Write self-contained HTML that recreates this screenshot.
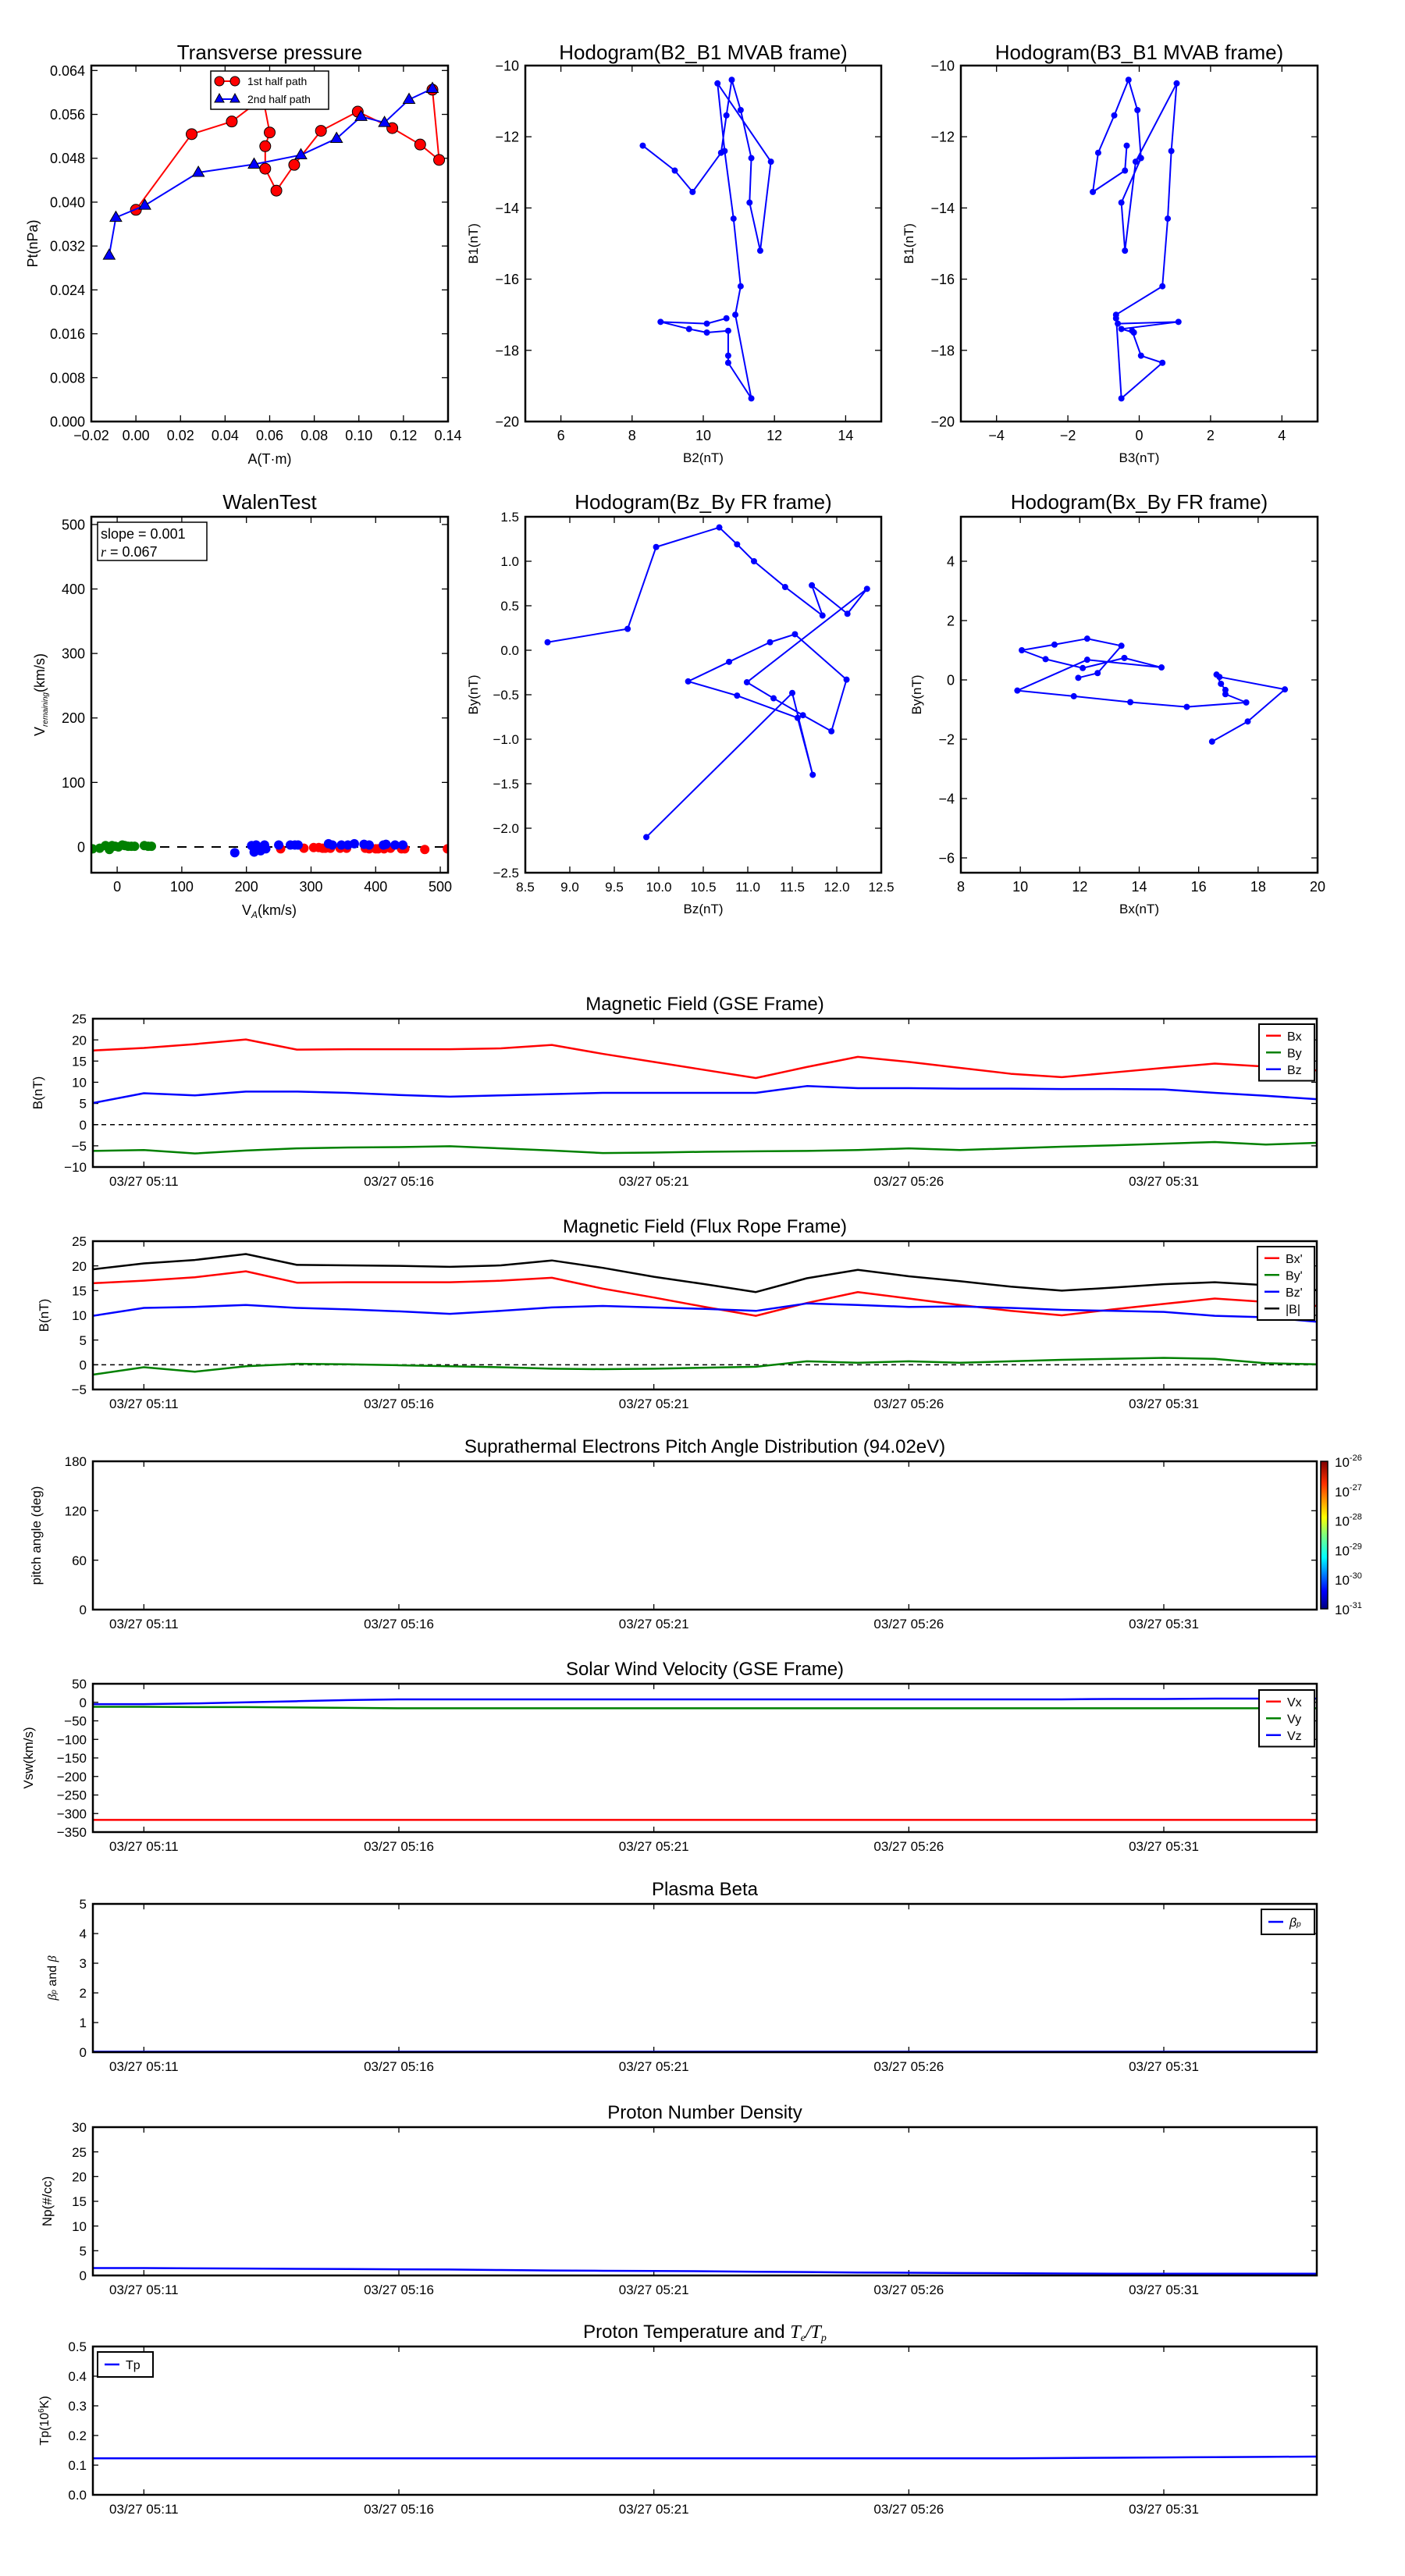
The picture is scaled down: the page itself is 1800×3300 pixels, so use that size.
<!DOCTYPE html>
<html><head><meta charset="utf-8"><title>Flux rope analysis</title>
<style>
html,body{margin:0;padding:0;background:#fff;}
svg{display:block;font-family:"Liberation Sans","DejaVu Sans",sans-serif;}
</style></head>
<body>
<svg id="fig" width="1800" height="3300" viewBox="0 0 1800 3300" xmlns="http://www.w3.org/2000/svg">
<rect x="0" y="0" width="1800" height="3300" fill="#fff"/>
</svg>
<script>
// ---------- data ----------
// Transverse pressure
const ptA1 = [0.000, 0.025, 0.043, 0.057, 0.060, 0.058, 0.058, 0.063, 0.071, 0.083, 0.0995, 0.115, 0.1275, 0.136, 0.133];
const ptP1 = [0.0386, 0.0524, 0.0547, 0.0590, 0.0527, 0.0502, 0.0461, 0.0421, 0.0468, 0.0530, 0.0565, 0.0535, 0.0505, 0.0477, 0.0605];
const ptA2 = [-0.012, -0.009, 0.004, 0.028, 0.053, 0.074, 0.090, 0.101, 0.1115, 0.1225, 0.133];
const ptP2 = [0.0303, 0.0372, 0.0394, 0.0454, 0.0469, 0.0486, 0.0516, 0.0556, 0.0545, 0.0587, 0.0607];
// MVAB hodograms
const mvB1 = [-12.25,-12.95,-13.55,-12.45,-11.4,-10.4,-11.25,-12.6,-13.85,-15.2,-12.7,-10.5,-12.4,-14.3,-16.2,-17.0,-19.35,-18.35,-18.15,-17.45,-17.5,-17.4,-17.2,-17.25,-17.1];
const mvB2 = [8.3,9.2,9.7,10.5,10.65,10.8,11.05,11.35,11.3,11.6,11.9,10.4,10.6,10.85,11.05,10.9,11.35,10.7,10.7,10.7,10.1,9.6,8.8,10.1,10.65];
const mvB3 = [-0.35,-0.4,-1.3,-1.15,-0.7,-0.3,-0.05,0.05,-0.5,-0.4,-0.1,1.05,0.9,0.8,0.65,-0.65,-0.5,0.65,0.05,-0.2,-0.15,-0.5,1.1,-0.6,-0.65];
// FR hodograms
const frBz = [8.75,9.65,9.97,10.68,10.88,11.07,11.42,11.84,11.72,12.12,12.34,10.99,11.29,11.62,11.94,12.11,11.53,11.25,10.79,10.33,10.88,11.56,11.73,11.5,9.86];
const frBy = [0.09,0.24,1.16,1.38,1.19,1.0,0.71,0.39,0.73,0.41,0.69,-0.36,-0.54,-0.73,-0.91,-0.33,0.18,0.09,-0.13,-0.35,-0.51,-0.76,-1.4,-0.48,-2.1];
const fr2Bx = [11.95,12.6,13.4,12.25,11.15,10.05,10.85,12.1,13.5,14.75,12.25,9.9,11.8,13.7,15.6,17.6,16.9,16.9,16.75,16.6,16.7,18.9,17.65,16.45];
const fr2By = [0.07,0.23,1.15,1.39,1.19,1.0,0.7,0.4,0.74,0.42,0.68,-0.36,-0.55,-0.75,-0.91,-0.76,-0.48,-0.34,-0.13,0.18,0.1,-0.32,-1.4,-2.08];
// Walen test
const wgX = [-38,-27,-18,-12,-8,-3,2,8,12,17,22,27,42,48,53];
const wgY = [-3,-2,2,-4,2,1,0,3,2,1,1,1,2,1,1];
const wbX = [182,208,212,215,220,222,228,230,250,268,275,280,327,333,347,357,367,382,390,412,416,430,442];
const wbY = [-9,2,-8,3,-4,-6,3,-3,3,3,3,3,5,3,3,3,5,4,3,3,4,3,3];
const wrX = [253,289,304,312,318,322,330,345,355,384,390,400,404,413,423,440,445,476,511];
const wrY = [-3,-2,-1,-1,-2,-2,-2,-2,-2,-2,-3,-3,-3,-3,-2,-3,-3,-4,-3];
// time series (minutes after 05:10)
const tMin = [0,1,2,3,4,5,6,7,8,9,10,11,12,13,14,15,16,17,18,19,20,21,22,23,24];
const timeTickPos = [1,6,11,16,21];
const timeTickLabels = ["03/27 05:11","03/27 05:16","03/27 05:21","03/27 05:26","03/27 05:31"];
const gseBx = [17.5,18.1,19.0,20.1,17.7,17.8,17.8,17.8,18.0,18.8,16.7,14.8,12.9,11.0,13.6,16.0,14.8,13.4,12.0,11.2,12.3,13.4,14.4,13.7,12.8];
const gseBy = [-6.2,-6.0,-6.8,-6.1,-5.6,-5.4,-5.3,-5.1,-5.6,-6.1,-6.7,-6.6,-6.4,-6.3,-6.2,-6.0,-5.6,-6.0,-5.6,-5.2,-4.9,-4.5,-4.1,-4.7,-4.3];
const gseBz = [5.1,7.4,6.9,7.8,7.8,7.5,7.0,6.6,6.9,7.2,7.5,7.5,7.5,7.5,9.1,8.6,8.6,8.5,8.5,8.4,8.4,8.3,7.5,6.8,6.0];
const frBxp = [16.5,17.0,17.7,18.9,16.6,16.7,16.7,16.7,17.0,17.6,15.4,13.6,11.7,9.9,12.5,14.7,13.4,12.1,10.9,10.0,11.2,12.3,13.4,12.7,11.9];
const frByp = [-2.0,-0.5,-1.4,-0.3,0.2,0.1,-0.1,-0.3,-0.5,-0.8,-0.9,-0.8,-0.6,-0.4,0.7,0.4,0.7,0.4,0.7,1.0,1.2,1.4,1.2,0.3,0.1];
const frBzp = [9.9,11.5,11.7,12.1,11.5,11.2,10.8,10.3,10.9,11.6,11.9,11.6,11.3,10.9,12.4,12.1,11.7,11.8,11.5,11.1,10.9,10.7,9.9,9.6,8.7];
const frBt = [19.3,20.5,21.2,22.4,20.2,20.1,20.0,19.8,20.1,21.1,19.6,17.8,16.3,14.7,17.5,19.2,17.9,16.9,15.8,15.0,15.6,16.3,16.7,16.1,15.1];
const vswX = [-317,-317,-317,-317,-317,-317,-317,-317,-317,-317,-317,-317,-317,-317,-317,-317,-317,-317,-317,-317,-317,-317,-317,-317,-317];
const vswY = [-12,-12,-13,-13,-14,-15,-16,-16,-16,-16,-16,-16,-16,-16,-16,-16,-16,-16,-16,-16,-16,-16,-16,-16,-16];
const vswZ = [-5,-5,-3,0,3,6,8,8,8,8,8,8,8,8,8,8,8,8,8,8,9,9,10,10,10];
const betaP = [0.02,0.02,0.02,0.02,0.02,0.02,0.02,0.02,0.02,0.02,0.02,0.02,0.02,0.02,0.02,0.02,0.02,0.02,0.02,0.02,0.02,0.02,0.02,0.02,0.02];
const npVal = [1.5,1.5,1.45,1.4,1.35,1.3,1.25,1.2,1.1,1.0,0.95,0.9,0.85,0.75,0.7,0.6,0.55,0.5,0.45,0.4,0.35,0.35,0.35,0.35,0.35];
const tpVal = [0.123,0.123,0.123,0.123,0.123,0.123,0.123,0.123,0.123,0.123,0.123,0.123,0.123,0.123,0.123,0.123,0.123,0.123,0.123,0.124,0.125,0.126,0.127,0.128,0.129];
const cbLabels = ["-26","-27","-28","-29","-30","-31"];

// ---------- helpers ----------
const NS = "http://www.w3.org/2000/svg";
const svg = document.getElementById('fig');
function mk(tag, attrs, parent) {
  const e = document.createElementNS(NS, tag);
  for (const k in attrs) e.setAttribute(k, attrs[k]);
  (parent || svg).appendChild(e);
  return e;
}
function txt(s, x, y, size, anchor, parent, name, rot) {
  const t = mk('text', {x: x, y: y, 'font-size': size, 'text-anchor': anchor || 'middle', fill: '#000'}, parent);
  if (rot) t.setAttribute('transform', 'rotate(' + rot + ' ' + x + ' ' + y + ')');
  t.textContent = s;
  
  
  return t;
}
function axes(o) {
  const g = mk('g', {});
  
  
  const sx = v => o.x0 + (v - o.xmin) / (o.xmax - o.xmin) * o.w;
  const sy = v => o.y0 + o.h - (v - o.ymin) / (o.ymax - o.ymin) * o.h;
  const tl = o.tl || 8;
  // ticks
  const tg = mk('g', {stroke: '#000', 'stroke-width': 1.3}, g);
  
  
  o.xticks.forEach((v, i) => {
    const x = sx(v);
    mk('line', {x1: x, x2: x, y1: o.y0 + o.h, y2: o.y0 + o.h - tl}, tg);
    mk('line', {x1: x, x2: x, y1: o.y0, y2: o.y0 + tl}, tg);
    const lab = o.xlabs ? o.xlabs[i] : o.xfmt(v);
    txt(lab, x, o.y0 + o.h + o.xlabOff, o.tfs, 'middle', g, o.name + '-x-tick-label');
  });
  o.yticks.forEach(v => {
    const y = sy(v);
    mk('line', {x1: o.x0, x2: o.x0 + tl, y1: y, y2: y}, tg);
    mk('line', {x1: o.x0 + o.w, x2: o.x0 + o.w - tl, y1: y, y2: y}, tg);
    txt(o.yfmt(v), o.x0 - 8, y + o.tfs * 0.36, o.tfs, 'end', g, o.name + '-y-tick-label');
  });
  if (o.title) txt(o.title, o.x0 + o.w / 2, o.titleY, o.titleSize || 24, 'middle', g, o.name + '-title');
  if (o.xlabel) txt(o.xlabel, o.x0 + o.w / 2, o.xlabelY, o.lfs || 18, 'middle', g, o.name + '-x-axis-title');
  if (o.ylabel) txt(o.ylabel, o.ylabelX, o.y0 + o.h / 2, o.lfs || 18, 'middle', g, o.name + '-y-axis-title', -90);
  const clipId = 'clip-' + o.name;
  const cp = mk('clipPath', {id: clipId}, g);
  mk('rect', {x: o.x0, y: o.y0, width: o.w, height: o.h}, cp);
  const plot = mk('g', {'clip-path': 'url(#' + clipId + ')'}, g);
  
  
  return {g, plot, sx, sy, o};
}
function frame(a) {
  const o = a.o;
  const r = mk('rect', {x: o.x0, y: o.y0, width: o.w, height: o.h, fill: 'none', stroke: '#000', 'stroke-width': 2.5}, a.g);
  
  
}
function line(a, xs, ys, color, width, name, dash) {
  const d = xs.map((x, i) => (i ? 'L' : 'M') + a.sx(x).toFixed(2) + ' ' + a.sy(ys[i]).toFixed(2)).join(' ');
  const p = mk('path', {d: d, fill: 'none', stroke: color, 'stroke-width': width, 'stroke-linejoin': 'round'}, a.plot);
  if (dash) p.setAttribute('stroke-dasharray', dash);
  
  
  return p;
}
function dots(a, xs, ys, color, r, name, stroke) {
  xs.forEach((x, i) => {
    const c = mk('circle', {cx: a.sx(x), cy: a.sy(ys[i]), r: r, fill: color}, a.plot);
    if (stroke) { c.setAttribute('stroke', '#000'); c.setAttribute('stroke-width', 1); }
    
    
  });
}
function tris(a, xs, ys, name) {
  xs.forEach((x, i) => {
    const cx = a.sx(x), cy = a.sy(ys[i]);
    const p = mk('path', {d: `M${cx} ${cy - 8} L${cx - 7.5} ${cy + 5} L${cx + 7.5} ${cy + 5} Z`, fill: '#0000ff', stroke: '#000', 'stroke-width': 1}, a.plot);
    
    
  });
}
function range(a, b, s) { const r = []; for (let v = a; v <= b + 1e-9; v += s) r.push(+v.toFixed(6)); return r; }
const neg = s => s.replace('-', '\u2212');

// ---------- top row ----------
const tp = axes({name: 'transverse-pressure', x0: 117, y0: 84, w: 457, h: 456, xmin: -0.02, xmax: 0.14, ymin: 0, ymax: 0.0649,
  xticks: range(-0.02, 0.14, 0.02), yticks: range(0, 0.064, 0.008), xfmt: v => neg(v.toFixed(2)), yfmt: v => v.toFixed(3),
  tfs: 18, xlabOff: 24, title: 'Transverse pressure', titleY: 76, titleSize: 26, xlabel: 'A(T\u00b7m)', xlabelY: 594, ylabel: 'Pt(nPa)', ylabelX: 48});
line(tp, ptA1, ptP1, '#ff0000', 2, 'first-half-path-line');
dots(tp, ptA1, ptP1, '#ff0000', 7, 'first-half-path-marker', true);
line(tp, ptA2, ptP2, '#0000ff', 2, 'second-half-path-line');
tris(tp, ptA2, ptP2, 'second-half-path-marker');
frame(tp);
{
  const lg = mk('g', {}, tp.g);
  
  
  mk('rect', {x: 270, y: 91, width: 151, height: 49, fill: '#fff', stroke: '#000', 'stroke-width': 1.5}, lg);
  mk('line', {x1: 281, x2: 301, y1: 104, y2: 104, stroke: '#ff0000', 'stroke-width': 2}, lg);
  mk('circle', {cx: 281, cy: 104, r: 6, fill: '#ff0000', stroke: '#000'}, lg);
  mk('circle', {cx: 301, cy: 104, r: 6, fill: '#ff0000', stroke: '#000'}, lg);
  txt('1st half path', 317, 109, 14, 'start', lg, 'legend-entry-first-half');
  mk('line', {x1: 281, x2: 301, y1: 127, y2: 127, stroke: '#0000ff', 'stroke-width': 2}, lg);
  mk('path', {d: 'M281 120 L275 131 L287 131 Z M301 120 L295 131 L307 131 Z', fill: '#0000ff', stroke: '#000'}, lg);
  txt('2nd half path', 317, 132, 14, 'start', lg, 'legend-entry-second-half');
}

const h1 = axes({name: 'hodogram-b2-b1', x0: 673, y0: 84, w: 456, h: 456, xmin: 5, xmax: 15, ymin: -20, ymax: -10,
  xticks: range(6, 14, 2), yticks: range(-20, -10, 2), xfmt: v => neg(String(v)), yfmt: v => neg(String(v)),
  tfs: 18, xlabOff: 24, title: 'Hodogram(B2_B1 MVAB frame)', titleY: 76, titleSize: 26, xlabel: 'B2(nT)', xlabelY: 592, ylabel: 'B1(nT)', ylabelX: 612, lfs: 17});
line(h1, mvB2, mvB1, '#0000ff', 2, 'hodogram-b2-b1-line');
dots(h1, mvB2, mvB1, '#0000ff', 4, 'hodogram-b2-b1-point');
frame(h1);

const h2 = axes({name: 'hodogram-b3-b1', x0: 1231, y0: 84, w: 457, h: 456, xmin: -5, xmax: 5, ymin: -20, ymax: -10,
  xticks: range(-4, 4, 2), yticks: range(-20, -10, 2), xfmt: v => neg(String(v)), yfmt: v => neg(String(v)),
  tfs: 18, xlabOff: 24, title: 'Hodogram(B3_B1 MVAB frame)', titleY: 76, titleSize: 26, xlabel: 'B3(nT)', xlabelY: 592, ylabel: 'B1(nT)', ylabelX: 1170, lfs: 17});
line(h2, mvB3, mvB1, '#0000ff', 2, 'hodogram-b3-b1-line');
dots(h2, mvB3, mvB1, '#0000ff', 4, 'hodogram-b3-b1-point');
frame(h2);

// ---------- second row ----------
const wt = axes({name: 'walen-test', x0: 117, y0: 662, w: 457, h: 456, xmin: -40, xmax: 512, ymin: -40, ymax: 512,
  xticks: range(0, 500, 100), yticks: range(0, 500, 100), xfmt: v => String(v), yfmt: v => String(v),
  tfs: 18, xlabOff: 24, title: 'WalenTest', titleY: 652, titleSize: 26, xlabel: '', ylabel: '', ylabelX: 52});
line(wt, [-40, 512], [0, 0], '#000', 2, 'walen-zero-line', '12,10');
dots(wt, wgX, wgY, '#008000', 6, 'walen-point-green');
dots(wt, wrX, wrY, '#ff0000', 6, 'walen-point-red');
dots(wt, wbX, wbY, '#0000ff', 6, 'walen-point-blue');
frame(wt);
{
  const t = mk('text', {x: 345, y: 1172, 'font-size': 18, 'text-anchor': 'middle'}, wt.g);
  
  
  t.innerHTML = 'V<tspan font-style="italic" font-size="12" dy="4">A</tspan><tspan dy="-4">(km/s)</tspan>';
  const t2 = mk('text', {x: 57, y: 890, 'font-size': 18, 'text-anchor': 'middle', transform: 'rotate(-90 57 890)'}, wt.g);
  
  
  t2.innerHTML = 'V<tspan font-style="italic" font-size="10" dy="4">remaining</tspan><tspan dy="-4">(km/s)</tspan>';
  const bx = mk('g', {}, wt.g);
  
  
  mk('rect', {x: 125, y: 669, width: 140, height: 49, fill: '#fff', stroke: '#000', 'stroke-width': 1.5}, bx);
  txt('slope = 0.001', 129, 690, 18, 'start', bx, 'walen-slope-text');
  const rt = mk('text', {x: 129, y: 713, 'font-size': 18}, bx);
  
  
  rt.innerHTML = '<tspan font-style="italic" font-family="Liberation Serif">r</tspan> = 0.067';
}

const h3 = axes({name: 'hodogram-bz-by', x0: 673, y0: 662, w: 456, h: 456, xmin: 8.5, xmax: 12.5, ymin: -2.5, ymax: 1.5,
  xticks: range(8.5, 12.5, 0.5), yticks: range(-2.5, 1.5, 0.5), xfmt: v => v.toFixed(1), yfmt: v => neg(v.toFixed(1)),
  tfs: 17, xlabOff: 24, title: 'Hodogram(Bz_By FR frame)', titleY: 652, titleSize: 26, xlabel: 'Bz(nT)', xlabelY: 1170, ylabel: 'By(nT)', ylabelX: 612, lfs: 17});
line(h3, frBz, frBy, '#0000ff', 2, 'hodogram-bz-by-line');
dots(h3, frBz, frBy, '#0000ff', 4, 'hodogram-bz-by-point');
frame(h3);

const h4 = axes({name: 'hodogram-bx-by', x0: 1231, y0: 662, w: 457, h: 456, xmin: 8, xmax: 20, ymin: -6.5, ymax: 5.5,
  xticks: range(8, 20, 2), yticks: range(-6, 4, 2), xfmt: v => String(v), yfmt: v => neg(String(v)),
  tfs: 18, xlabOff: 24, title: 'Hodogram(Bx_By FR frame)', titleY: 652, titleSize: 26, xlabel: 'Bx(nT)', xlabelY: 1170, ylabel: 'By(nT)', ylabelX: 1180, lfs: 17});
line(h4, fr2Bx, fr2By, '#0000ff', 2, 'hodogram-bx-by-line');
dots(h4, fr2Bx, fr2By, '#0000ff', 4, 'hodogram-bx-by-point');
frame(h4);

// ---------- time series ----------
function ts(name, y0, ymin, ymax, yticks, title, ylabel, ylabelX, fmt) {
  return axes({name: name, x0: 119, y0: y0, w: 1568, h: 190, xmin: 0, xmax: 24, ymin: ymin, ymax: ymax,
    xticks: timeTickPos, xlabs: timeTickLabels, yticks: yticks, xfmt: String, yfmt: fmt || (v => neg(String(v))),
    tfs: 17, xlabOff: 24, tl: 7, title: title, titleY: y0 - 11, titleSize: 24, ylabel: ylabel, ylabelX: ylabelX, lfs: 17});
}
function legend(name, x, y, w, entries, itemH) {
  const lg = mk('g', {});
  
  
  mk('rect', {x: x, y: y, width: w, height: entries.length * itemH + 8, fill: '#fff', stroke: '#000', 'stroke-width': 2}, lg);
  entries.forEach((e, i) => {
    const cy = y + 4 + itemH * (i + 0.5);
    mk('line', {x1: x + 9, x2: x + 28, y1: cy, y2: cy, stroke: e[1], 'stroke-width': 2.5}, lg);
    const t = txt('', x + 36, cy + 6, 16, 'start', lg, 'legend-entry-' + i);
    t.innerHTML = e[0];
  });
}

const g1 = ts('magnetic-field-gse', 1305, -10, 25, range(-10, 25, 5), 'Magnetic Field (GSE Frame)', 'B(nT)', 54);
line(g1, [0, 24], [0, 0], '#000', 1.5, 'gse-zero-line', '6,5');
line(g1, tMin, gseBx, '#ff0000', 2.5, 'gse-bx-line');
line(g1, tMin, gseBy, '#008000', 2.5, 'gse-by-line');
line(g1, tMin, gseBz, '#0000ff', 2.5, 'gse-bz-line');
frame(g1);
legend('gse-legend', 1613, 1312, 71, [['Bx', '#ff0000'], ['By', '#008000'], ['Bz', '#0000ff']], 21.5);

const g2 = ts('magnetic-field-flux-rope', 1590, -5, 25, range(-5, 25, 5), 'Magnetic Field (Flux Rope Frame)', 'B(nT)', 62);
line(g2, [0, 24], [0, 0], '#000', 1.5, 'fr-zero-line', '6,5');
line(g2, tMin, frBxp, '#ff0000', 2.5, 'fr-bx-line');
line(g2, tMin, frByp, '#008000', 2.5, 'fr-by-line');
line(g2, tMin, frBzp, '#0000ff', 2.5, 'fr-bz-line');
line(g2, tMin, frBt, '#000000', 2.5, 'fr-btotal-line');
frame(g2);
legend('flux-rope-legend', 1611, 1597, 73, [["Bx'", '#ff0000'], ["By'", '#008000'], ["Bz'", '#0000ff'], ['|B|', '#000']], 21.5);

const g3 = ts('pitch-angle-distribution', 1872, 0, 180, [0, 60, 120, 180], 'Suprathermal Electrons Pitch Angle Distribution (94.02eV)', 'pitch angle (deg)', 52);
frame(g3);
{
  const cb = mk('g', {});
  
  
  const lgd = mk('linearGradient', {id: 'jet', x1: 0, y1: 1, x2: 0, y2: 0}, cb);
  [['0', '#00007f'], ['0.12', '#0000ff'], ['0.35', '#00ffff'], ['0.5', '#7fff7f'], ['0.62', '#ffff00'], ['0.85', '#ff3000'], ['1', '#7f0000']]
    .forEach(s => mk('stop', {offset: s[0], 'stop-color': s[1]}, lgd));
  mk('rect', {x: 1692, y: 1872, width: 9, height: 189, fill: 'url(#jet)', stroke: '#000', 'stroke-width': 1.5}, cb);
  cbLabels.forEach((s, i) => {
    const y = 1872 + i * 189 / 5;
    const t = mk('text', {x: 1710, y: y + 7, 'font-size': 17}, cb);
    
    
    t.innerHTML = '10<tspan font-size="11" dy="-8">' + s + '</tspan>';
  });
}

const g4 = ts('solar-wind-velocity', 2157, -350, 50, range(-350, 50, 50), 'Solar Wind Velocity (GSE Frame)', 'Vsw(km/s)', 42);
line(g4, tMin, vswX, '#ff0000', 2.5, 'vx-line');
line(g4, tMin, vswY, '#008000', 2.5, 'vy-line');
line(g4, tMin, vswZ, '#0000ff', 2.5, 'vz-line');
frame(g4);
legend('velocity-legend', 1613, 2165, 71, [['Vx', '#ff0000'], ['Vy', '#008000'], ['Vz', '#0000ff']], 21.5);

const g5 = ts('plasma-beta', 2439, 0, 5, range(0, 5, 1), 'Plasma Beta', '', 70);
line(g5, tMin, betaP, '#0000ff', 2.5, 'beta-p-line');
frame(g5);
{
  const t = mk('text', {x: 72, y: 2534, 'font-size': 16, 'text-anchor': 'middle', transform: 'rotate(-90 72 2534)', fill: '#000'}, g5.g);
  
  
  t.innerHTML = '<tspan font-style="italic" font-family="Liberation Serif">\u03b2</tspan><tspan font-size="10" font-style="italic">p</tspan> and <tspan font-style="italic" font-family="Liberation Serif">\u03b2</tspan>';
}
legend('beta-legend', 1616, 2446, 68, [['<tspan font-style="italic">\u03b2<tspan font-size="10">p</tspan></tspan>', '#0000ff']], 24);

const g6 = ts('proton-number-density', 2725, 0, 30, range(0, 30, 5), 'Proton Number Density', 'Np(#/cc)', 66);
line(g6, tMin, npVal, '#0000ff', 2.5, 'np-line');
frame(g6);

const g7 = ts('proton-temperature', 3006, 0, 0.5, range(0, 0.5, 0.1), '', '', 58, v => v.toFixed(1));
line(g7, tMin, tpVal, '#0000ff', 2.5, 'tp-line');
frame(g7);
{
  const t = mk('text', {x: 903, y: 2995, 'font-size': 24, 'text-anchor': 'middle'}, g7.g);
  
  
  t.innerHTML = 'Proton Temperature and <tspan font-family="Liberation Serif" font-style="italic">T</tspan><tspan font-family="Liberation Serif" font-style="italic" font-size="14" dy="4">e</tspan><tspan font-family="Liberation Serif" font-style="italic" dy="-4">/T</tspan><tspan font-family="Liberation Serif" font-style="italic" font-size="14" dy="4">p</tspan>';
  const t2 = mk('text', {x: 62, y: 3101, 'font-size': 16, 'text-anchor': 'middle', transform: 'rotate(-90 62 3101)'}, g7.g);
  
  
  t2.innerHTML = 'Tp(10<tspan font-size="10" dy="-6">6</tspan><tspan dy="6">K)</tspan>';
}
legend('tp-legend', 125, 3013, 71, [['Tp', '#0000ff']], 24);
</script>
</body></html>
